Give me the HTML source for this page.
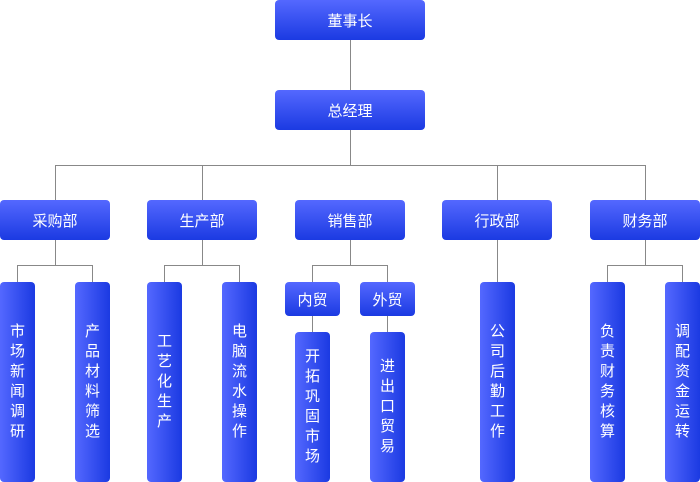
<!DOCTYPE html>
<html><head><meta charset="utf-8"><style>
body{margin:0;width:700px;height:482px;background:#fff;position:relative;overflow:hidden;font-family:"Liberation Sans","Noto Sans CJK SC",sans-serif;}
.h{position:absolute;border-radius:4px;background:linear-gradient(#5468ff,#1b3ae2);color:#fff;font-size:15px;display:flex;align-items:center;justify-content:center;}
.v{position:absolute;border-radius:4px;background:linear-gradient(90deg,#5468ff,#1b3ae2);color:#fff;font-size:15px;display:flex;align-items:center;justify-content:center;}
.v span{width:16px;line-height:20px;text-align:center;word-break:break-all;}
.l{position:absolute;background:#888;}
</style></head><body>
<div class="l" style="left:350px;top:40px;width:1px;height:50px"></div>
<div class="l" style="left:350px;top:130px;width:1px;height:35px"></div>
<div class="l" style="left:55px;top:165px;width:591px;height:1px"></div>
<div class="l" style="left:55px;top:165px;width:1px;height:35px"></div>
<div class="l" style="left:202px;top:165px;width:1px;height:35px"></div>
<div class="l" style="left:497px;top:165px;width:1px;height:35px"></div>
<div class="l" style="left:645px;top:165px;width:1px;height:35px"></div>
<!-- dept down -->
<div class="l" style="left:55px;top:240px;width:1px;height:25px"></div>
<div class="l" style="left:17px;top:265px;width:76px;height:1px"></div>
<div class="l" style="left:17px;top:265px;width:1px;height:17px"></div>
<div class="l" style="left:92px;top:265px;width:1px;height:17px"></div>
<div class="l" style="left:202px;top:240px;width:1px;height:25px"></div>
<div class="l" style="left:164px;top:265px;width:76px;height:1px"></div>
<div class="l" style="left:164px;top:265px;width:1px;height:17px"></div>
<div class="l" style="left:239px;top:265px;width:1px;height:17px"></div>
<div class="l" style="left:350px;top:240px;width:1px;height:25px"></div>
<div class="l" style="left:312px;top:265px;width:76px;height:1px"></div>
<div class="l" style="left:312px;top:265px;width:1px;height:17px"></div>
<div class="l" style="left:387px;top:265px;width:1px;height:17px"></div>
<div class="l" style="left:312px;top:316px;width:1px;height:16px"></div>
<div class="l" style="left:387px;top:316px;width:1px;height:16px"></div>
<div class="l" style="left:497px;top:240px;width:1px;height:42px"></div>
<div class="l" style="left:645px;top:240px;width:1px;height:25px"></div>
<div class="l" style="left:607px;top:265px;width:76px;height:1px"></div>
<div class="l" style="left:607px;top:265px;width:1px;height:17px"></div>
<div class="l" style="left:682px;top:265px;width:1px;height:17px"></div>

<div class="h" style="left:275px;top:0;width:150px;height:40px">董事长</div>
<div class="h" style="left:275px;top:90px;width:150px;height:40px">总经理</div>
<div class="h" style="left:0;top:200px;width:110px;height:40px">采购部</div>
<div class="h" style="left:147px;top:200px;width:110px;height:40px">生产部</div>
<div class="h" style="left:295px;top:200px;width:110px;height:40px">销售部</div>
<div class="h" style="left:442px;top:200px;width:110px;height:40px">行政部</div>
<div class="h" style="left:590px;top:200px;width:110px;height:40px">财务部</div>
<div class="h" style="left:285px;top:282px;width:55px;height:34px">内贸</div>
<div class="h" style="left:360px;top:282px;width:55px;height:34px">外贸</div>

<div class="v" style="left:0;top:282px;width:35px;height:200px"><span>市场新闻调研</span></div>
<div class="v" style="left:75px;top:282px;width:35px;height:200px"><span>产品材料筛选</span></div>
<div class="v" style="left:147px;top:282px;width:35px;height:200px"><span>工艺化生产</span></div>
<div class="v" style="left:222px;top:282px;width:35px;height:200px"><span>电脑流水操作</span></div>
<div class="v" style="left:295px;top:332px;width:35px;height:150px"><span>开拓巩固市场</span></div>
<div class="v" style="left:370px;top:332px;width:35px;height:150px"><span>进出口贸易</span></div>
<div class="v" style="left:480px;top:282px;width:35px;height:200px"><span>公司后勤工作</span></div>
<div class="v" style="left:590px;top:282px;width:35px;height:200px"><span>负责财务核算</span></div>
<div class="v" style="left:665px;top:282px;width:35px;height:200px"><span>调配资金运转</span></div>
</body></html>
